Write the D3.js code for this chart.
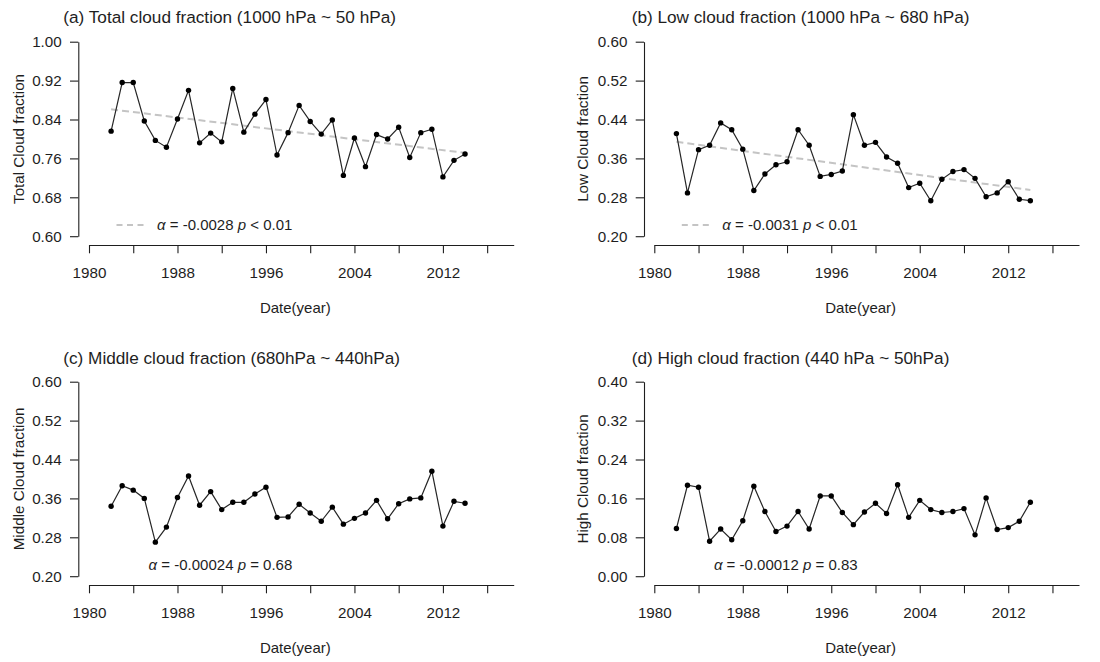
<!DOCTYPE html>
<html>
<head>
<meta charset="utf-8">
<script src="https://cdn.jsdelivr.net/npm/d3@7"></script>
<style>
  body { margin: 0; background: #fff; }
  svg { display: block; font-family: "Liberation Sans", Arial, sans-serif; }
</style>
</head>
<body>
<svg id="chart" width="1100" height="662"></svg>
<script>
// Annual mean cloud fraction, 1982-2014
const years = [1982, 1983, 1984, 1985, 1986, 1987, 1988, 1989, 1990, 1991, 1992,
               1993, 1994, 1995, 1996, 1997, 1998, 1999, 2000, 2001, 2002, 2003,
               2004, 2005, 2006, 2007, 2008, 2009, 2010, 2011, 2012, 2013, 2014];

const totalCloud = [0.816, 0.916, 0.916, 0.837, 0.797, 0.783, 0.841, 0.900, 0.792, 0.812, 0.794,
                    0.904, 0.814, 0.851, 0.881, 0.767, 0.813, 0.869, 0.836, 0.810, 0.839, 0.725,
                    0.802, 0.743, 0.809, 0.800, 0.824, 0.762, 0.813, 0.820, 0.722, 0.756, 0.769];

const lowCloud = [0.411, 0.289, 0.378, 0.387, 0.433, 0.419, 0.379, 0.294, 0.328, 0.347, 0.353,
                  0.419, 0.387, 0.323, 0.327, 0.334, 0.450, 0.387, 0.393, 0.363, 0.350, 0.300,
                  0.309, 0.273, 0.317, 0.333, 0.337, 0.319, 0.281, 0.289, 0.312, 0.276, 0.273];

const middleCloud = [0.344, 0.386, 0.377, 0.360, 0.270, 0.301, 0.362, 0.406, 0.346, 0.374, 0.337,
                     0.352, 0.352, 0.369, 0.383, 0.321, 0.322, 0.348, 0.330, 0.313, 0.342, 0.307,
                     0.319, 0.330, 0.356, 0.318, 0.349, 0.359, 0.361, 0.416, 0.303, 0.354, 0.350];

const highCloud = [0.098, 0.187, 0.183, 0.072, 0.097, 0.075, 0.114, 0.185, 0.133, 0.092, 0.103,
                   0.133, 0.097, 0.165, 0.165, 0.131, 0.106, 0.132, 0.150, 0.129, 0.188, 0.121,
                   0.156, 0.137, 0.131, 0.133, 0.139, 0.085, 0.161, 0.096, 0.100, 0.113, 0.152];

// Axis ticks
const xTicks = [1980, 1984, 1988, 1992, 1996, 2000, 2004, 2008, 2012, 2016];
const xTickLabels = [1980, 1988, 1996, 2004, 2012];
const totalTicks = [0.60, 0.68, 0.76, 0.84, 0.92, 1.00];
const lowTicks = [0.20, 0.28, 0.36, 0.44, 0.52, 0.60];
const middleTicks = [0.20, 0.28, 0.36, 0.44, 0.52, 0.60];
const highTicks = [0.00, 0.08, 0.16, 0.24, 0.32, 0.40];

// Trend statistics (slope per year, p-value text)
const trendSlopes = [-0.0028, -0.0031, -0.00024, -0.00012];
const trendSlopeText = ["-0.0028", "-0.0031", "-0.00024", "-0.00012"];
const trendPText = ["< 0.01", "< 0.01", "= 0.68", "= 0.83"];
const trendDrawn = [true, true, false, false];

const titles = [
  "(a) Total cloud fraction (1000 hPa ~ 50 hPa)",
  "(b) Low cloud fraction (1000 hPa ~ 680 hPa)",
  "(c) Middle cloud fraction (680hPa ~ 440hPa)",
  "(d) High cloud fraction (440 hPa ~ 50hPa)"
];
const yLabels = ["Total Cloud fraction", "Low Cloud fraction", "Middle Cloud fraction", "High Cloud fraction"];
const seriesList = [totalCloud, lowCloud, middleCloud, highCloud];
const tickList = [totalTicks, lowTicks, middleTicks, highTicks];

// ---- layout ----
const svg = d3.select("#chart");
svg.append("rect").attr("width", 1100).attr("height", 662).attr("fill", "#fff");

const colLeft = [89, 654.3];       // x of 1980 on the time axis
const colAxis = [78.3, 644];       // y-axis line position
const titleX = [63.3, 631.7];
const yLabelX = [24, 588];
const rowTop = [41.7, 381.7];
const titleY = [23.3, 364];
const plotH = 194.5;
const yearPx = 11.06;
const xDomain = [1980, 2018.4];
const ink = "#1e1e1e";
const trendColor = "#c4c4c4";

seriesList.forEach((values, i) => {
  const col = i % 2, row = Math.floor(i / 2);
  const ticks = tickList[i];
  const x = d3.scaleLinear().domain(xDomain)
    .range([colLeft[col], colLeft[col] + (xDomain[1] - xDomain[0]) * yearPx]);
  const y = d3.scaleLinear().domain([ticks[0], ticks[ticks.length - 1]])
    .range([rowTop[row] + plotH, rowTop[row]]);
  const g = svg.append("g");
  const xAxisY = rowTop[row] + plotH + 8.8;

  // y axis
  const yAxis = g.append("g")
    .attr("transform", `translate(${colAxis[col]},0)`)
    .call(d3.axisLeft(y).tickValues(ticks).tickFormat(d3.format(".2f"))
      .tickSize(8.3).tickPadding(8.3).tickSizeOuter(0));

  // x axis
  const xAxis = g.append("g")
    .attr("transform", `translate(0,${xAxisY})`)
    .call(d3.axisBottom(x).tickValues(xTicks)
      .tickFormat(d => xTickLabels.includes(d) ? String(d) : "")
      .tickSize(8.3).tickPadding(14).tickSizeOuter(0));

  [yAxis, xAxis].forEach(ax => {
    ax.attr("font-family", null).attr("font-size", null);
    ax.selectAll("path, line").attr("stroke", ink).attr("stroke-width", 1.1);
    ax.selectAll("text").attr("fill", ink).style("font-size", "15.2px");
  });

  // title
  g.append("text")
    .attr("x", titleX[col]).attr("y", titleY[row])
    .attr("fill", ink).style("font-size", "17.2px")
    .text(titles[i]);

  // y label
  const yc = rowTop[row] + plotH / 2;
  g.append("text")
    .attr("transform", `translate(${yLabelX[col]},${yc}) rotate(-90)`)
    .attr("text-anchor", "middle")
    .attr("fill", ink).style("font-size", "15.2px")
    .text(yLabels[i]);

  // x label
  g.append("text")
    .attr("x", (x.range()[0] + x.range()[1]) / 2 - 6)
    .attr("y", xAxisY + 68)
    .attr("text-anchor", "middle")
    .attr("fill", ink).style("font-size", "15px")
    .text("Date(year)");

  // trend line: labelled slope through the series mean
  if (trendDrawn[i]) {
    const mx = d3.mean(years), my = d3.mean(values);
    const ends = [years[0], years[years.length - 1]];
    g.append("line")
      .attr("x1", x(ends[0])).attr("y1", y(my + trendSlopes[i] * (ends[0] - mx)))
      .attr("x2", x(ends[1])).attr("y2", y(my + trendSlopes[i] * (ends[1] - mx)))
      .attr("stroke", trendColor).attr("stroke-width", 2)
      .attr("stroke-dasharray", "7,4");
  }

  // series line and points
  const line = d3.line().x((d, k) => x(years[k])).y(d => y(d));
  g.append("path").datum(values)
    .attr("d", line).attr("fill", "none")
    .attr("stroke", "#262626").attr("stroke-width", 1.2);
  g.selectAll("circle.pt").data(values).join("circle")
    .attr("class", "pt")
    .attr("cx", (d, k) => x(years[k])).attr("cy", d => y(d))
    .attr("r", 2.7).attr("fill", "#000");

  // trend annotation
  const annBase = xAxisY - 15;
  const annX = colLeft[col] + (trendDrawn[i] ? 68 : 59.6);
  if (trendDrawn[i]) {
    g.append("line")
      .attr("x1", colLeft[col] + 27.5).attr("x2", colLeft[col] + 55)
      .attr("y1", annBase - 5).attr("y2", annBase - 5)
      .attr("stroke", trendColor).attr("stroke-width", 2)
      .attr("stroke-dasharray", "6,4.5");
  }
  const t = g.append("text")
    .attr("x", annX).attr("y", annBase)
    .attr("fill", ink).style("font-size", "15px");
  t.append("tspan").style("font-style", "italic").text("α");
  t.append("tspan").text(` = ${trendSlopeText[i]} `);
  t.append("tspan").style("font-style", "italic").text("p");
  t.append("tspan").text(` ${trendPText[i]}`);
});
</script>
</body>
</html>
